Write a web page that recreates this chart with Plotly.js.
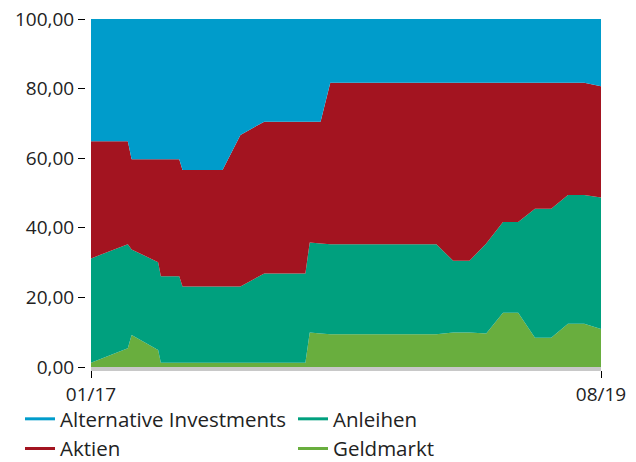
<!DOCTYPE html>
<html>
<head>
<meta charset="utf-8">
<script src="https://cdn.plot.ly/plotly-3.0.1.min.js"></script>
<style>html,body{margin:0;padding:0;background:#fff;}#chart{width:636px;height:462px;}</style>
</head>
<body>
<div id="chart"></div>
<script>
// Dates of the data points (month-end/rebalancing dates)
const dates = ['2017-01-01','2017-03-10','2017-03-17','2017-05-05','2017-05-10','2017-06-13','2017-06-19','2017-09-01','2017-10-04','2017-11-17','2018-02-01','2018-02-09','2018-03-01','2018-03-19','2018-10-01','2018-11-01','2018-12-01','2019-01-01','2019-02-01','2019-03-01','2019-04-01','2019-05-01','2019-06-01','2019-07-01','2019-08-01'];

// Allocation shares in percent
const geldmarkt   = [1.2, 5.4, 9.2, 4.9, 1.2, 1.2, 1.2, 1.2, 1.2, 1.2, 1.2, 9.9, 9.6, 9.4, 9.4, 9.9, 9.9, 9.6, 15.6, 15.6, 8.4, 8.4, 12.4, 12.4, 10.9];
const anleihen    = [30.0, 29.9, 24.6, 25.2, 24.9, 24.9, 21.9, 21.9, 21.9, 25.7, 25.7, 25.9, 25.9, 25.9, 25.9, 20.6, 20.6, 25.9, 26.1, 26.1, 37.1, 37.1, 37.0, 37.0, 37.8];
const aktien      = [33.7, 29.6, 25.9, 29.6, 33.6, 33.6, 33.5, 33.5, 43.6, 43.6, 43.6, 34.7, 35.0, 46.4, 46.4, 51.2, 51.2, 46.2, 40.0, 40.0, 36.2, 36.2, 32.3, 32.3, 32.0];
const alternative = [35.1, 35.1, 40.3, 40.3, 40.3, 40.3, 43.4, 43.4, 33.3, 29.5, 29.5, 29.5, 29.5, 18.3, 18.3, 18.3, 18.3, 18.3, 18.3, 18.3, 18.3, 18.3, 18.3, 18.3, 19.3];

const seriesNames = ['Geldmarkt', 'Anleihen', 'Aktien', 'Alternative Investments'];
const xTickVals = ['2017-01-01', '2019-08-01'];
const xTickText = ['01/17', '08/19'];
const yTickVals = [0, 20, 40, 60, 80, 100];

const colors = {
  'Geldmarkt': '#69ae3e',
  'Anleihen': '#00a07e',
  'Aktien': '#a31420',
  'Alternative Investments': '#009ccb'
};
// legend column and order within column
const legendColumn = {
  'Alternative Investments': 'legend',
  'Aktien': 'legend',
  'Anleihen': 'legend2',
  'Geldmarkt': 'legend2'
};
const legendRank = {
  'Alternative Investments': 1,
  'Aktien': 2,
  'Anleihen': 1,
  'Geldmarkt': 2
};
const values = [geldmarkt, anleihen, aktien, alternative];

const traces = [];
seriesNames.forEach((name, i) => {
  traces.push({
    type: 'scatter',
    x: dates,
    y: values[i],
    name: name,
    stackgroup: 'one',
    mode: 'none',
    fillcolor: colors[name],
    showlegend: false,
    hoverinfo: 'skip'
  });
});
// legend entries (line symbols)
seriesNames.forEach((name) => {
  traces.push({
    type: 'scatter',
    x: [null],
    y: [null],
    name: name,
    mode: 'lines',
    line: {color: colors[name], width: 3},
    legend: legendColumn[name],
    legendrank: legendRank[name],
    showlegend: true,
    hoverinfo: 'skip'
  });
});

const W = 636;
const plotLeft = 85, plotRight = 35;
const gap = 6;

const legendBase = {
  orientation: 'v',
  xref: 'container',
  yref: 'container',
  y: 1 - 399 / 462,
  xanchor: 'left',
  yanchor: 'top',
  traceorder: 'normal',
  tracegroupgap: 0,
  font: {size: 20.5, color: '#222222'},
  bgcolor: 'rgba(0,0,0,0)'
};

const layout = {
  width: 636,
  height: 462,
  margin: {l: plotLeft, r: plotRight, t: 19, b: 95, pad: 0, autoexpand: false},
  paper_bgcolor: '#ffffff',
  plot_bgcolor: '#ffffff',
  separators: ',.',
  font: {family: '"Open Sans", "Noto Sans", sans-serif', size: 19, color: '#222222'},
  showlegend: true,
  xaxis: {
    type: 'date',
    domain: [gap / (W - plotLeft - plotRight), 1],
    range: ['2017-01-01', '2019-08-01'],
    tickmode: 'array',
    tickvals: xTickVals,
    ticktext: xTickText,
    ticks: 'outside',
    ticklen: 7,
    tickwidth: 1,
    tickcolor: '#000000',
    showline: true,
    linecolor: '#c8c8c8',
    linewidth: 4,
    showgrid: false,
    zeroline: false,
    fixedrange: true
  },
  yaxis: {
    anchor: 'free',
    position: 0,
    range: [0, 100],
    tickmode: 'array',
    tickvals: yTickVals,
    tickformat: '.2f',
    ticks: 'outside',
    ticklen: 7,
    tickwidth: 1,
    tickcolor: '#000000',
    showline: false,
    showgrid: false,
    zeroline: false,
    fixedrange: true
  },
  legend: Object.assign({}, legendBase, {x: 20 / 636}),
  legend2: Object.assign({}, legendBase, {x: 293 / 636})
};

Plotly.newPlot('chart', traces, layout, {displayModeBar: false, staticPlot: true});
</script>
</body>
</html>
